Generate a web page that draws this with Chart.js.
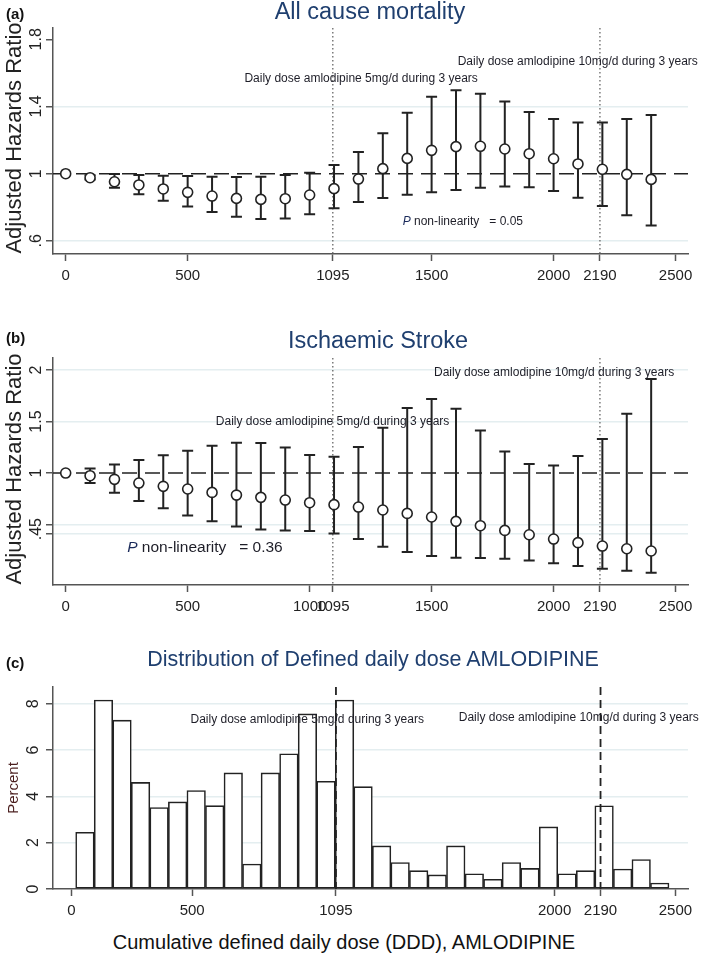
<!DOCTYPE html>
<html>
<head>
<meta charset="utf-8">
<script src="https://cdn.jsdelivr.net/npm/chart.js@4.4.0/dist/chart.umd.min.js"></script>
<style>
  body { margin: 0; background: #fff; font-family: 'Liberation Sans', Arial, sans-serif; }
  #wrap { position: relative; width: 704px; height: 954px; overflow: hidden; background: #fff; }
  #wrap canvas { position: absolute; left: 0; }
  .lbl { position: absolute; white-space: nowrap; line-height: 1; transform: translate(-50%, -50%); }
  .panel { font-weight: bold; font-size: 15px; color: #111; transform: translate(0, -50%); }
  .title { color: #1f3f6f; }
  .ytitle { transform: translate(-50%, -50%) rotate(-90deg); }
</style>
</head>
<body>
<div id="wrap">
  <canvas id="chartA" width="704" height="290" style="top:0px"></canvas>
  <canvas id="chartB" width="704" height="320" style="top:295px"></canvas>
  <canvas id="chartC" width="704" height="300" style="top:620px"></canvas>

  <div class="lbl panel" style="left:6px;top:13px">(a)</div>
  <div class="lbl title" style="left:370px;top:12px;font-size:23.5px">All cause mortality</div>
  <div class="lbl ytitle" style="left:14px;top:138px;font-size:22px;color:#222">Adjusted Hazards Ratio</div>

  <div class="lbl panel" style="left:6px;top:337px">(b)</div>
  <div class="lbl title" style="left:378px;top:341px;font-size:23.5px">Ischaemic Stroke</div>
  <div class="lbl ytitle" style="left:14px;top:469px;font-size:22px;color:#222">Adjusted Hazards Ratio</div>

  <div class="lbl panel" style="left:6px;top:662px">(c)</div>
  <div class="lbl title" style="left:373px;top:660px;font-size:21.5px">Distribution of Defined daily dose AMLODIPINE</div>
  <div class="lbl ytitle" style="left:12px;top:788px;font-size:15px;color:#4a1e1e">Percent</div>
  <div class="lbl" style="left:344px;top:942px;font-size:20px;color:#111">Cumulative defined daily dose (DDD), AMLODIPINE</div>
</div>

<script>
const FONT = "'Liberation Sans', Arial, sans-serif";

// cumulative DDD at which the hazard ratios were estimated
const doses = [0, 100, 200, 300, 400, 500, 600, 700, 800, 900, 1000, 1100, 1200,
  1300, 1400, 1500, 1600, 1700, 1800, 1900, 2000, 2100, 2200, 2300, 2400];

// (a) all cause mortality
const hrMort = [1.0, 0.976, 0.952, 0.933, 0.909, 0.889, 0.867, 0.853, 0.847, 0.851, 0.873, 0.911, 0.968,
  1.030, 1.091, 1.139, 1.161, 1.163, 1.147, 1.119, 1.089, 1.058, 1.026, 0.996, 0.966];
const loMort = [1.0, 0.965, 0.917, 0.877, 0.839, 0.804, 0.772, 0.744, 0.730, 0.734, 0.758, 0.794, 0.831,
  0.855, 0.875, 0.889, 0.903, 0.917, 0.923, 0.919, 0.897, 0.857, 0.808, 0.752, 0.692];
const hiMort = [1.0, 0.990, 0.998, 0.992, 0.988, 0.986, 0.982, 0.980, 0.982, 0.992, 1.006, 1.052, 1.129,
  1.240, 1.363, 1.458, 1.496, 1.476, 1.429, 1.367, 1.325, 1.304, 1.304, 1.325, 1.349];

// (b) ischaemic stroke
const hrStroke = [1.0, 0.974, 0.939, 0.903, 0.871, 0.845, 0.812, 0.786, 0.764, 0.738, 0.712, 0.693, 0.670,
  0.641, 0.608, 0.573, 0.531, 0.489, 0.443, 0.401, 0.359, 0.324, 0.291, 0.265, 0.243];
const loStroke = [1.0, 0.903, 0.809, 0.728, 0.657, 0.589, 0.531, 0.482, 0.453, 0.443, 0.437, 0.414, 0.359,
  0.285, 0.233, 0.194, 0.178, 0.175, 0.168, 0.152, 0.123, 0.097, 0.071, 0.052, 0.032];
const hiStroke = [1.0, 1.045, 1.084, 1.126, 1.172, 1.217, 1.265, 1.294, 1.291, 1.249, 1.175, 1.159, 1.252,
  1.440, 1.631, 1.718, 1.625, 1.414, 1.210, 1.087, 1.074, 1.165, 1.330, 1.576, 1.913];

// (c) histogram of cumulative DDD
const binMid = [56.2, 132.9, 209.6, 286.4, 363.1, 439.8, 516.6, 593.3, 670.1, 746.8, 823.5, 900.3,
  977.0, 1053.8, 1130.5, 1207.2, 1284.0, 1360.7, 1437.4, 1514.2, 1590.9, 1667.7, 1744.4, 1821.1,
  1897.9, 1974.6, 2051.3, 2128.1, 2204.8, 2281.6, 2358.3, 2435.0];
const pct = [2.45, 8.16, 7.29, 4.60, 3.52, 3.76, 4.25, 3.60, 5.01, 1.08, 5.01, 5.84, 7.56, 4.65, 8.16,
  4.42, 1.86, 1.14, 0.79, 0.61, 1.86, 0.66, 0.42, 1.14, 0.89, 2.68, 0.66, 0.79, 3.59, 0.86, 1.27, 0.26];

// axis ticks and labels
const xTicksA = [0, 500, 1095, 1500, 2000, 2190, 2500];
const xTicksB = [0, 500, 1000, 1095, 1500, 2000, 2190, 2500];
const xTicksC = [0, 500, 1095, 2000, 2190, 2500];
const yTicksA = [0.6, 1, 1.4, 1.8];
const yLabelAtA = [0.6, 1, 1.4, 1.8];
const yLabelsA = ['.6', '1', '1.4', '1.8'];
const yTicksB = [0.41, 0.5, 1, 1.5, 2];
const yLabelAtB = [0.455, 1, 1.5, 2];
const yLabelsB = ['.45', '1', '1.5', '2'];
const yTicksC = [0, 2, 4, 6, 8];
const yLabelsC = ['0', '2', '4', '6', '8'];
const refDoses = [1095, 2190];
const note5 = 'Daily dose amlodipine 5mg/d during 3 years';
const note10 = 'Daily dose amlodipine 10mg/d during 3 years';

// draws stata-like bits: error bars, reference lines, rotated y labels, notes
const stataPlugin = {
  id: 'stata',
  beforeDatasetsDraw(chart, args, o) {
    const { ctx, chartArea: a, scales: { x, y } } = chart;
    ctx.save();
    if (o.hline != null) {
      const py = y.getPixelForValue(o.hline);
      ctx.beginPath();
      ctx.setLineDash([15, 8]);
      ctx.strokeStyle = '#222';
      ctx.lineWidth = 1.6;
      ctx.moveTo(a.left, py);
      ctx.lineTo(a.right, py);
      ctx.stroke();
    }
    if (!o.linesOnTop) drawVlines(chart, o);
    if (o.err) {
      ctx.setLineDash([]);
      ctx.strokeStyle = '#222';
      ctx.lineWidth = 2;
      o.err.x.forEach((d, i) => {
        if (o.err.lo[i] === o.err.hi[i]) return;
        const px = x.getPixelForValue(d);
        const y1 = y.getPixelForValue(o.err.lo[i]);
        const y2 = y.getPixelForValue(o.err.hi[i]);
        ctx.beginPath();
        ctx.moveTo(px, y1); ctx.lineTo(px, y2);
        ctx.moveTo(px - 5.5, y1); ctx.lineTo(px + 5.5, y1);
        ctx.moveTo(px - 5.5, y2); ctx.lineTo(px + 5.5, y2);
        ctx.stroke();
      });
    }
    ctx.restore();
  },
  afterDatasetsDraw(chart, args, o) {
    if (o.linesOnTop) {
      chart.ctx.save();
      drawVlines(chart, o);
      chart.ctx.restore();
    }
  },
  afterDraw(chart, args, o) {
    const { ctx, scales: { x, y } } = chart;
    ctx.save();
    // rotated y tick labels
    ctx.fillStyle = '#222';
    ctx.font = `16px ${FONT}`;
    ctx.textAlign = 'center';
    ctx.textBaseline = 'alphabetic';
    o.ylab.at.forEach((v, i) => {
      const py = y.getPixelForValue(v);
      ctx.save();
      ctx.translate(o.ylab.cx + 0.358 * 16, py);
      ctx.rotate(-Math.PI / 2);
      ctx.fillText(o.ylab.text[i], 0, 0);
      ctx.restore();
    });
    // notes
    ctx.textBaseline = 'middle';
    (o.notes || []).forEach(n => {
      const px = x.getPixelForValue(n.x);
      const py = y.getPixelForValue(n.y);
      if (n.p) {
        ctx.font = `italic ${n.size}px ${FONT}`;
        const w1 = ctx.measureText('P').width;
        ctx.font = `${n.size}px ${FONT}`;
        const w2 = ctx.measureText(n.text).width;
        const x0 = px - (w1 + w2) / 2;
        ctx.textAlign = 'left';
        ctx.font = `italic ${n.size}px ${FONT}`;
        ctx.fillStyle = '#1a2a5a';
        ctx.fillText('P', x0, py);
        ctx.font = `${n.size}px ${FONT}`;
        ctx.fillStyle = '#1e1e28';
        ctx.fillText(n.text, x0 + w1, py);
      } else {
        ctx.textAlign = 'center';
        ctx.font = `${n.size}px ${FONT}`;
        ctx.fillStyle = '#1e1e28';
        ctx.fillText(n.text, px, py);
      }
    });
    ctx.restore();
  }
};

function drawVlines(chart, o) {
  const { ctx, chartArea: a, scales: { x } } = chart;
  (o.vlines || []).forEach(v => {
    const px = x.getPixelForValue(v);
    ctx.beginPath();
    ctx.setLineDash(o.vdash);
    ctx.strokeStyle = o.vcolor;
    ctx.lineWidth = o.vwidth;
    ctx.moveTo(px, a.top);
    ctx.lineTo(px, a.bottom);
    ctx.stroke();
  });
}

const xAxis = (min, max, ticks, h) => ({
  type: 'linear', min, max, offset: false,
  afterBuildTicks: s => { s.ticks = ticks.map(v => ({ value: v })); },
  afterFit: s => { s.height = h; },
  ticks: {
    autoSkip: false, maxRotation: 0, minRotation: 0, padding: 6,
    color: '#222', font: { size: 15, family: FONT },
    callback: v => String(v)
  },
  grid: { drawOnChartArea: false, drawTicks: true, tickLength: 7, tickColor: '#555', tickWidth: 1.5, offset: false },
  border: { color: '#555', width: 1.5 }
});

const yAxis = (min, max, ticks, skipGrid) => ({
  type: 'linear', min, max,
  afterBuildTicks: s => { s.ticks = ticks.map(v => ({ value: v })); },
  afterFit: s => { s.width = 53; },
  ticks: { display: false },
  grid: {
    color: c => (c.tick && skipGrid.includes(c.tick.value)) ? 'rgba(0,0,0,0)' : '#e4eef0',
    lineWidth: 1.5, drawTicks: true, tickLength: 7, tickColor: '#555', tickWidth: 1.5
  },
  border: { color: '#555', width: 1.5 }
});

const baseOpts = {
  responsive: false,
  animation: false,
  events: [],
  plugins: { legend: { display: false }, tooltip: { enabled: false }, title: { display: false } }
};

const hrChart = (id, hr, lo, hi, cfg) => new Chart(document.getElementById(id), {
  type: 'scatter',
  data: {
    datasets: [{
      data: doses.map((d, i) => ({ x: d, y: hr[i] })),
      pointStyle: 'circle',
      pointRadius: 5,
      pointBorderWidth: 1.6,
      pointBorderColor: '#222',
      pointBackgroundColor: '#fff',
      showLine: false
    }]
  },
  options: {
    ...baseOpts,
    layout: { padding: { left: 0, right: 16, top: cfg.top, bottom: 0 } },
    scales: {
      x: xAxis(-52, 2551, cfg.xTicks, cfg.xh),
      y: yAxis(cfg.ymin, cfg.ymax, cfg.yTicks, cfg.skipGrid)
    },
    plugins: {
      ...baseOpts.plugins,
      stata: {
        hline: 1,
        err: { x: doses, lo, hi },
        vlines: refDoses, vdash: [1.5, 2.5], vcolor: '#666', vwidth: 1.3,
        ylab: { cx: 35, at: cfg.yLabelAt, text: cfg.yLabels },
        notes: cfg.notes
      }
    }
  },
  plugins: [stataPlugin]
});

hrChart('chartA', hrMort, loMort, hiMort, {
  top: 28, xh: 36, xTicks: xTicksA,
  ymin: 0.522, ymax: 1.867, yTicks: yTicksA, skipGrid: [1, 1.8],
  yLabelAt: yLabelAtA, yLabels: yLabelsA,
  notes: [
    { x: 1211, y: 1.564, text: note5, size: 12 },
    { x: 2099, y: 1.667, text: note10, size: 12 },
    { x: 1628, y: 0.712, text: ' non-linearity   = 0.05', size: 12, p: true }
  ]
});

hrChart('chartB', hrStroke, loStroke, hiStroke, {
  top: 63, xh: 30, xTicks: xTicksB,
  ymin: -0.087, ymax: 2.117, yTicks: yTicksB, skipGrid: [1],
  yLabelAt: yLabelAtB, yLabels: yLabelsB,
  notes: [
    { x: 1094, y: 1.495, text: note5, size: 12 },
    { x: 2002, y: 1.974, text: note10, size: 12 },
    { x: 571, y: 0.272, text: ' non-linearity   = 0.36', size: 15.5, p: true }
  ]
});

new Chart(document.getElementById('chartC'), {
  type: 'bar',
  data: {
    datasets: [{
      data: binMid.map((m, i) => ({ x: m, y: pct[i] })),
      backgroundColor: '#fff',
      borderColor: '#222',
      borderWidth: 1.6,
      borderSkipped: false,
      barPercentage: 1,
      categoryPercentage: 1
    }]
  },
  options: {
    ...baseOpts,
    layout: { padding: { left: 0, right: 16, top: 67, bottom: 0 } },
    scales: {
      x: xAxis(-76, 2552, xTicksC, 31),
      y: yAxis(0, 8.72, yTicksC, [0])
    },
    plugins: {
      ...baseOpts.plugins,
      stata: {
        linesOnTop: true,
        vlines: refDoses, vdash: [8, 5], vcolor: '#222', vwidth: 1.8,
        ylab: { cx: 32, at: yTicksC, text: yLabelsC },
        notes: [
          { x: 976, y: 7.29, text: note5, size: 12 },
          { x: 2100, y: 7.38, text: note10, size: 12 }
        ]
      }
    }
  },
  plugins: [stataPlugin]
});
</script>
</body>
</html>
